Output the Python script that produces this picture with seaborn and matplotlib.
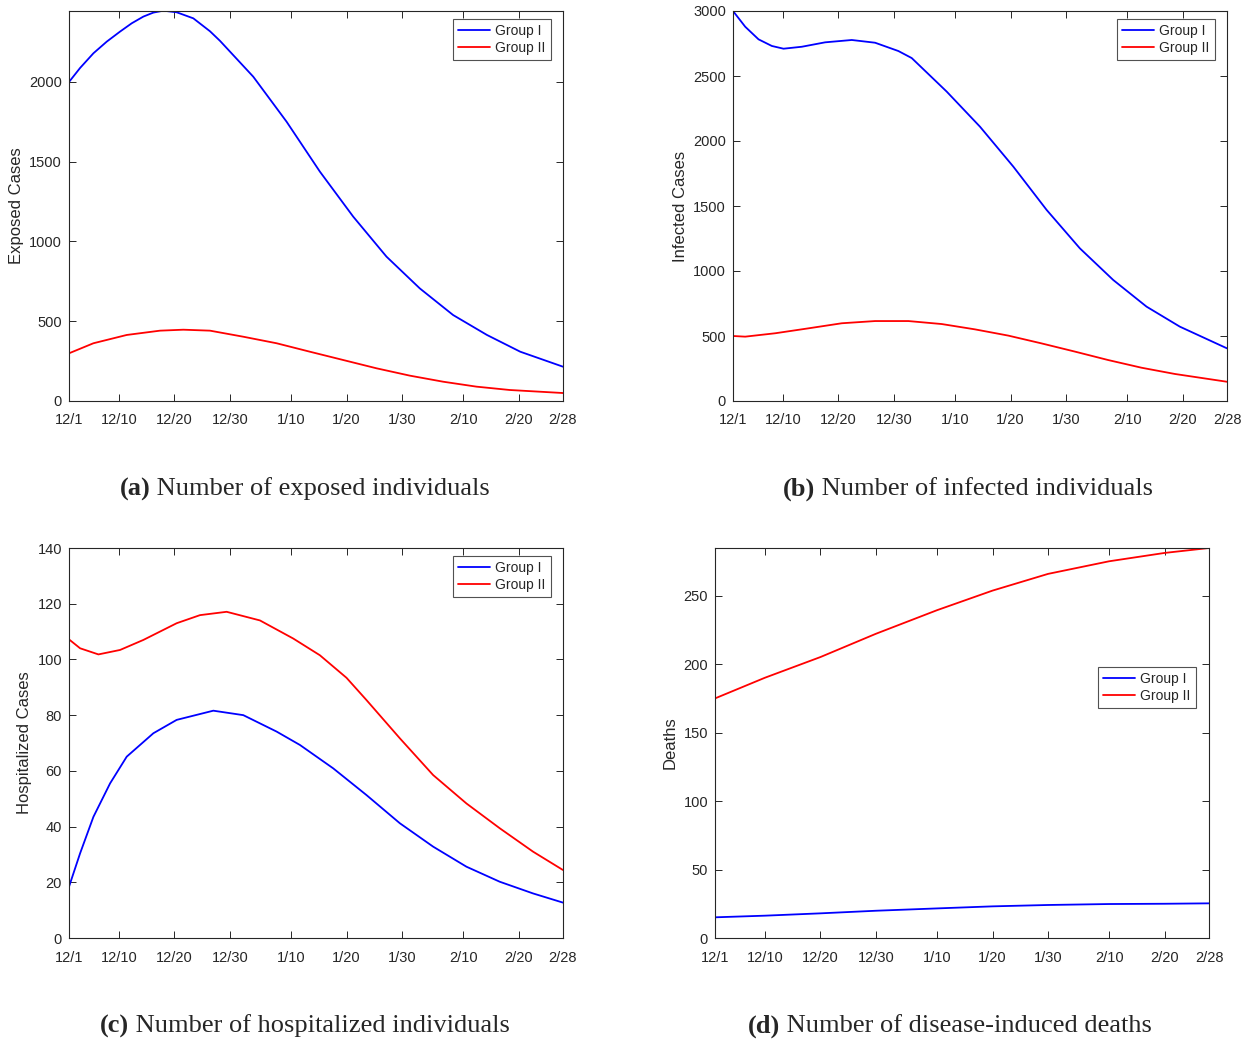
import numpy as np
import pandas as pd
import matplotlib
matplotlib.use("Agg")
import matplotlib.pyplot as plt
import seaborn as sns

sns.set_style("ticks")
plt.rcParams['font.family'] = ['Liberation Sans', 'DejaVu Sans']

# x positions: days since 12/1
tick_days = [0, 9, 19, 29, 40, 50, 60, 71, 81, 89]
tick_labels = ["12/1", "12/10", "12/20", "12/30", "1/10", "1/20", "1/30", "2/10", "2/20", "2/28"]

# (a) Exposed
exp_d1 = [0, 2.0, 4.4, 6.8, 9.2, 11.3, 13.4, 15.2, 17.0, 19.4, 22.4, 25.4, 27.2, 33.2, 39.2, 45.2, 51.2, 57.2, 63.2, 69.2, 75.3, 81.3, 89]
exp_g1 = [2000, 2088, 2180, 2253, 2316, 2368, 2410, 2435, 2447, 2437, 2399, 2318, 2258, 2033, 1751, 1438, 1156, 905, 706, 539, 414, 309, 215]
exp_d2 = [0, 4.4, 10.4, 16.4, 20.6, 25.4, 31.4, 37.4, 43.4, 49.4, 55.4, 61.4, 67.4, 73.4, 79.4, 89]
exp_g2 = [299, 362, 414, 441, 447, 441, 403, 362, 309, 257, 205, 159, 121, 90, 69, 50]

# (b) Infected
inf_d1 = [0, 2.2, 4.6, 7.0, 9.1, 12.4, 16.6, 21.4, 25.6, 29.8, 32.2, 38.5, 44.5, 50.5, 56.5, 62.5, 68.5, 74.5, 80.5, 89]
inf_g1 = [3000, 2879, 2782, 2731, 2710, 2725, 2759, 2777, 2756, 2692, 2638, 2380, 2110, 1803, 1470, 1174, 931, 726, 572, 405]
inf_d2 = [0, 2.2, 7.6, 13.6, 19.6, 25.6, 31.6, 37.6, 43.6, 49.6, 55.6, 61.6, 67.6, 73.6, 79.6, 89]
inf_g2 = [500, 495, 521, 559, 598, 615, 615, 592, 551, 503, 443, 380, 315, 256, 208, 148]

# (c) Hospitalized
hos_d1 = [0, 2.0, 4.4, 7.4, 10.4, 15.2, 19.4, 26.0, 31.4, 37.4, 41.6, 47.6, 53.6, 59.6, 65.6, 71.6, 77.6, 83.6, 89]
hos_g1 = [18.4, 30.4, 43.5, 55.5, 65.1, 73.5, 78.3, 81.6, 80.0, 74.1, 69.3, 60.9, 51.3, 41.2, 32.8, 25.6, 20.2, 16.0, 12.7]
hos_d2 = [0, 2.0, 5.3, 9.2, 13.4, 19.4, 23.6, 28.4, 34.4, 40.4, 45.2, 50.0, 53.6, 59.6, 65.6, 71.6, 77.6, 83.6, 89]
hos_g2 = [107.2, 104.0, 101.8, 103.4, 107.0, 113.0, 115.9, 117.1, 114.0, 107.5, 101.5, 93.4, 85.4, 71.7, 58.5, 48.3, 39.4, 31.0, 24.4]

# (d) Deaths
dth_d1 = [0, 9, 19, 29, 40, 50, 60, 71, 81, 89]
dth_g1 = [15.1, 16.3, 18.0, 19.9, 21.6, 23.1, 24.1, 24.8, 25.0, 25.3]
dth_d2 = [0, 9, 19, 29, 40, 50, 60, 71, 81, 89]
dth_g2 = [174.9, 190.0, 205.1, 222.1, 239.3, 253.6, 265.8, 275.0, 281.1, 284.7]

panels = [
    dict(d1=exp_d1, g1=exp_g1, d2=exp_d2, g2=exp_g2, ylabel="Exposed Cases", ylim=2445,
         yticks=[0, 500, 1000, 1500, 2000], pos=[69, 11, 563, 401],
         cap_b="(a)", cap_t=" Number of exposed individuals", cap_xy=(305, 489),
         leg=(453, 19)),
    dict(d1=inf_d1, g1=inf_g1, d2=inf_d2, g2=inf_g2, ylabel="Infected Cases", ylim=3000,
         yticks=[0, 500, 1000, 1500, 2000, 2500, 3000], pos=[733, 11, 1227, 401],
         cap_b="(b)", cap_t=" Number of infected individuals", cap_xy=(968, 489),
         leg=(1117, 19)),
    dict(d1=hos_d1, g1=hos_g1, d2=hos_d2, g2=hos_g2, ylabel="Hospitalized Cases", ylim=140,
         yticks=[0, 20, 40, 60, 80, 100, 120, 140], pos=[69, 548, 563, 938],
         cap_b="(c)", cap_t=" Number of hospitalized individuals", cap_xy=(305, 1026),
         leg=(453, 556)),
    dict(d1=dth_d1, g1=dth_g1, d2=dth_d2, g2=dth_g2, ylabel="Deaths", ylim=284.7,
         yticks=[0, 50, 100, 150, 200, 250], pos=[715, 548, 1209, 938],
         cap_b="(d)", cap_t=" Number of disease-induced deaths", cap_xy=(950, 1026),
         leg=(1098, 667)),
]

W, H = 1248, 1039
fig = plt.figure(figsize=(W / 100, H / 100), dpi=100)
edge = "#262626"

for p in panels:
    l, t, r, b = p["pos"]
    ax = fig.add_axes([l / W, 1 - b / H, (r - l) / W, (b - t) / H])
    df = pd.DataFrame({
        "day": list(p["d1"]) + list(p["d2"]),
        "value": list(p["g1"]) + list(p["g2"]),
        "group": ["Group I"] * len(p["d1"]) + ["Group II"] * len(p["d2"]),
    })
    sns.lineplot(data=df, x="day", y="value", hue="group", ax=ax,
                 palette={"Group I": "#0000ff", "Group II": "#ff0000"}, linewidth=1.3)
    ax.set_xlim(0, 89)
    ax.set_ylim(0, p["ylim"])
    ax.set_xticks(tick_days)
    ax.set_xticklabels(tick_labels)
    ax.set_yticks(p["yticks"])
    ax.set_xlabel("")
    ax.set_ylabel(p["ylabel"], fontsize=12, color=edge, labelpad=4)
    ax.tick_params(direction="in", top=True, right=True, length=5, width=0.7,
                   labelsize=10.5, colors=edge)
    ax.tick_params(axis="x", pad=9)
    ax.tick_params(axis="y", pad=5)
    for s in ax.spines.values():
        s.set_visible(True)
        s.set_color(edge)
        s.set_linewidth(0.8)
    lx, ly = p["leg"]
    leg = ax.legend(loc="upper left", bbox_to_anchor=(lx / W, 1 - ly / H),
                    bbox_transform=fig.transFigure, fontsize=10, frameon=True,
                    fancybox=False, edgecolor="#262626", handlelength=2.3,
                    borderpad=0.35, labelspacing=0.25, handletextpad=0.4,
                    borderaxespad=0)
    leg.get_frame().set_linewidth(0.8)
    for txt in leg.get_texts():
        txt.set_color(edge)

# captions with bold prefix
fig.canvas.draw()
r = fig.canvas.get_renderer()
for p in panels:
    cx, cy = p["cap_xy"]
    tb = fig.text(0, 0, p["cap_b"], fontsize=19, fontweight="bold",
                  family="Liberation Serif", va="center", ha="left")
    tt = fig.text(0, 0, p["cap_t"], fontsize=19, family="Liberation Serif",
                  va="center", ha="left")
    wb = tb.get_window_extent(r).width
    wt = tt.get_window_extent(r).width
    x0 = cx - (wb + wt) / 2
    tb.set_position((x0 / W, 1 - cy / H))
    tt.set_position(((x0 + wb) / W, 1 - cy / H))

fig.savefig("out.png", dpi=100)
